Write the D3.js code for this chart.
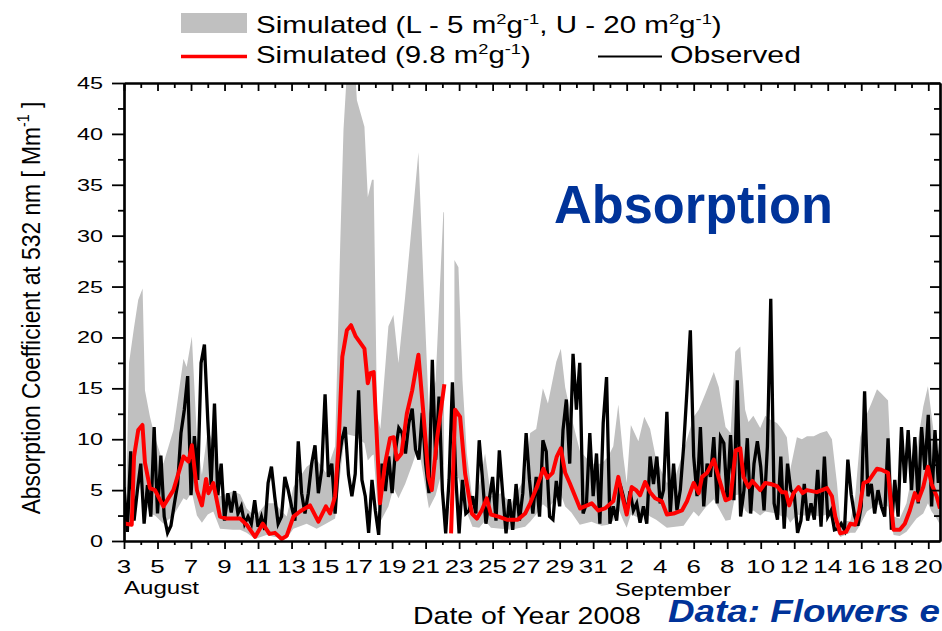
<!DOCTYPE html>
<html>
<head>
<meta charset="utf-8">
<script src="https://cdn.jsdelivr.net/npm/d3@7"></script>
<style>
body { margin: 0; background: #fff; }
svg { display: block; }
</style>
</head>
<body>
<script>
// days are counted from 3 August 2008 (day 0)
var xTickLabels = ["3","5","7","9","11","13","15","17","19","21","23","25","27","29","31",
                   "2","4","6","8","10","12","14","16","18","20"];
var yTickLabels = ["0","5","10","15","20","25","30","35","40","45"];

// observed absorption, one value every obsStep days
var obsStep = 0.2;
var obsVals = [
    5.3,0.9,8.8,2.0,5.0,7.6,1.7,5.5,2.4,11.2,
    2.7,8.4,2.4,0.8,1.5,3.6,5.6,10.6,12.9,16.2,
    4.5,10.3,6.0,17.5,19.3,11.9,5.5,13.5,4.5,7.6,
    2.0,4.7,2.8,4.9,2.7,3.4,1.7,2.4,1.7,4.0,
    1.4,2.4,1.1,5.7,7.3,4.3,1.7,2.4,6.3,5.0,
    3.4,2.0,9.8,4.7,2.7,4.7,7.6,9.4,4.7,7.0,
    14.4,6.3,7.6,2.7,7.6,9.9,11.2,6.5,4.4,6.6,
    14.8,6.0,4.4,0.8,6.0,3.0,0.6,7.6,4.9,8.3,
    4.7,8.9,11.1,10.6,8.6,11.6,13.0,9.0,8.0,12.6,
    7.6,4.7,17.8,8.0,14.2,5.0,0.75,6.0,15.6,6.3,
    0.75,6.0,2.7,3.0,4.4,2.7,9.9,6.0,1.7,4.1,
    6.3,2.0,8.9,4.7,0.75,4.1,1.1,5.6,2.0,4.7,
    10.6,6.0,2.7,6.3,2.4,9.9,8.8,2.4,2.1,5.9,
    3.4,10.9,13.9,7.6,18.4,12.9,17.5,2.7,3.7,10.6,
    4.4,8.6,1.7,11.6,16.1,1.7,3.4,2.0,5.6,4.4,
    2.7,4.9,3.0,3.7,1.8,3.4,1.7,8.3,5.6,8.3,
    3.7,5.0,12.7,2.7,7.6,3.0,5.0,9.3,14.8,20.7,
    8.3,4.4,11.2,3.4,7.6,6.3,10.2,3.7,10.2,9.6,
    4.0,10.4,4.0,15.8,2.4,5.0,10.1,2.7,7.6,9.8,
    7.3,3.0,9.3,23.8,3.7,2.1,8.3,1.2,7.6,5.0,
    4.6,0.8,2.0,5.6,2.0,3.7,2.1,7.0,1.4,8.3,
    2.4,3.0,1.1,1.2,1.7,1.1,8.0,4.6,2.5,1.5,
    3.4,14.7,4.4,5.6,2.7,5.0,3.4,2.4,10.1,1.1,
    6.0,2.4,11.2,5.7,10.9,5.0,10.2,3.7,11.2,7.0,
    12.4,3.4,10.9,5.7,11.7,4.4
];

// simulated with 9.8 m2/g (red)
var redDays = [
    0,0.12,0.46,0.6,0.85,1.1,1.25,1.55,1.85,2.35,
    2.95,3.55,3.85,4.05,4.35,4.65,4.9,5.04,5.33,5.73,
    6.13,6.93,7.32,7.82,8.28,8.68,9.01,9.41,9.71,10.11,
    10.5,11.1,11.6,12.05,12.3,12.6,12.8,13.03,13.3,13.55,
    13.83,14.35,14.55,14.7,14.9,15.28,15.58,15.88,16.1,16.28,
    16.56,16.88,17.2,17.57,17.87,18.17,18.37,18.67,19.12,19.3,
    19.52,19.76,20.06,20.36,20.76,21.06,21.35,21.65,21.9,22.35,
    22.85,23.5,23.94,24.24,24.64,25.03,25.27,25.58,25.83,26.07,
    26.33,26.6,27.22,27.5,27.92,28.3,28.7,29.2,29.5,29.7,
    30.0,30.3,30.56,30.8,31.1,31.4,31.7,32.1,32.4,32.8,
    33.3,33.6,34.0,34.3,34.5,34.8,35.2,35.5,35.9,36.2,
    36.5,36.78,36.97,37.27,37.5,37.97,38.27,38.6,38.97,39.26,
    39.5,39.7,39.96,40.26,40.5,40.76,41.35,41.95,42.25,42.45,
    42.75,43.1,43.35,43.64,43.88,44.14,44.44,44.94,45.2,45.6,
    45.93,46.3,46.6,46.9,47.2,47.4,47.7,47.98,48.2,48.5,
    48.7
];
var redVals = [
    1.8,1.7,1.6,8.3,10.9,11.4,7.7,5.2,5.0,3.4,
    5.0,8.3,7.8,9.4,5.0,3.5,6.1,4.7,5.7,2.4,
    2.2,2.2,1.6,0.4,1.7,0.7,0.8,0.2,0.5,2.4,
    2.9,3.5,1.9,3.4,2.7,4.4,9.3,18.1,20.7,21.2,
    20.1,18.9,15.5,16.5,16.6,3.7,7.6,10.1,10.2,8.0,
    8.6,12.5,14.8,18.3,12.5,6.3,5.0,9.9,15.4,null,
    0.75,12.9,12.2,6.6,2.7,2.2,3.0,4.2,2.6,2.4,
    2.1,2.1,2.7,3.7,5.3,7.1,6.2,6.7,8.3,9.1,
    6.7,5.7,3.2,3.4,3.7,3.0,3.2,3.9,6.3,4.7,
    2.6,5.3,5.0,4.5,5.8,4.8,4.2,3.9,2.6,2.7,
    3.0,3.9,5.7,4.7,6.3,6.7,8.0,6.2,4.0,4.2,
    8.9,9.1,6.3,5.3,5.9,5.0,5.7,5.6,5.4,4.8,
    4.8,3.5,4.7,5.3,4.7,5.0,4.8,5.2,4.4,2.4,
    0.75,0.9,1.7,1.6,3.0,5.7,5.9,7.1,7.0,6.7,
    1.1,1.1,1.7,3.0,4.7,4.0,5.3,7.3,5.6,4.4,
    3.2
];

// simulated range, L = 5 and U = 20 m2/g (grey band)
var bandDays = [
    0,0.12,0.3,0.6,0.85,1.11,1.25,1.55,1.85,2.35,
    2.95,3.55,3.74,4.05,4.35,4.65,5.0,5.33,5.73,6.5,
    6.93,7.32,7.82,8.5,9.0,9.71,10.11,10.9,11.5,12.05,
    12.6,12.9,13.1,13.3,13.8,13.9,14.35,14.55,14.8,14.9,
    15.1,15.3,15.78,16.08,16.38,16.78,17.2,17.57,17.87,18.2,
    18.6,18.87,19.06,19.1,19.4,19.72,19.96,20.2,20.46,20.8,
    21.2,21.55,21.9,22.5,23.1,23.94,24.24,24.6,25.0,25.3,
    25.8,26.07,26.33,26.7,27.2,27.9,28.5,28.9,29.2,29.5,
    29.8,30.0,30.25,30.7,31.05,31.4,31.76,32.4,32.9,33.4,
    34.0,34.3,34.7,35.2,35.5,35.9,36.2,36.48,36.78,37.07,
    37.27,37.56,37.97,38.27,38.6,38.97,39.26,39.56,39.76,40.16,
    40.46,40.76,41.16,41.55,41.95,42.25,42.55,42.75,43.35,43.64,
    43.94,44.34,44.6,44.94,45.2,45.6,45.93,46.3,46.7,47.3,
    47.7,47.98,48.2,48.5,48.7
];
var bandHigh = [
    2.0,3.0,17.5,21.0,23.7,24.8,14.8,12.2,10.2,7.6,
    10.9,17.9,17.1,20.1,10.2,6.5,10.9,9.7,4.4,4.9,
    4.6,3.2,2.4,3.7,3.7,2.4,5.3,7.3,8.0,6.7,
    9.3,28.9,40.4,46,46,43.3,40.7,33.8,35.5,35.5,
    12.5,11.0,21.1,22.2,17.5,24.0,31.5,38.2,25.6,12.5,
    15.8,25.6,32.3,32.3,null,27.6,26.9,15.8,8.6,4.0,
    5.5,8.6,4.4,4.7,3.7,6.3,10.6,11.0,15.0,13.5,
    17.6,18.9,15.1,12.2,8.9,7.6,7.6,8.3,9.3,13.4,
    8.3,5.7,11.4,9.8,12.2,11.0,8.0,5.7,6.3,8.9,
    12.2,12.9,14.5,16.6,15.1,11.2,10.6,18.6,19.1,12.9,
    11.7,12.3,11.1,12.3,11.9,11.6,11.0,10.2,7.0,10.2,
    10.0,10.3,10.3,10.6,10.8,10.0,5.7,1.9,2.0,4.4,
    10.2,12.5,13.5,14.9,14.5,13.8,2.4,2.2,3.7,8.9,
    13.2,15.2,12.3,8.3,7.0
];
var bandLow = [
    0.9,0.9,2.5,4.2,5.5,5.8,3.9,2.7,2.5,1.7,
    2.5,4.2,4.0,4.8,2.5,1.8,2.6,2.9,1.2,1.1,
    1.1,0.8,0.2,0.6,0.4,0.25,1.2,1.7,1.2,1.7,
    2.2,6.5,9.3,10.5,10.3,10.2,9.6,7.9,8.4,8.5,
    4.0,1.9,3.4,5.2,4.2,5.6,7.5,9.3,6.4,3.2,
    4.5,6.2,7.6,0,null,6.0,6.2,4.5,2.8,1.4,
    1.3,2.0,1.3,1.2,1.1,1.4,1.9,2.6,3.6,3.2,
    4.2,4.6,3.4,2.8,1.6,1.9,1.5,1.6,2.0,3.2,
    2.0,1.3,2.6,2.3,2.9,2.4,2.1,1.3,1.4,1.5,
    2.9,2.4,3.3,4.1,3.2,2.0,2.1,4.5,4.6,3.0,
    2.7,3.0,2.5,2.9,2.8,2.7,2.4,2.4,1.8,2.6,
    2.5,2.5,2.5,2.4,2.6,2.2,0.9,0.4,0.8,0.8,
    1.6,2.9,3.2,3.6,3.5,3.4,0.6,0.5,0.9,2.2,
    2.7,3.7,2.9,2.2,1.6
];

var w = 942;
var h = 631;
var font = "'Liberation Sans', Arial, sans-serif";
var blue = "#003399";

var svg = d3.select("body").append("svg").attr("width", w).attr("height", h);

var x = d3.scaleLinear().domain([0, 48.7]).range([124, 940]);
var y = d3.scaleLinear().domain([0, 45]).range([541, 83]);

svg.append("clipPath").attr("id", "plot")
    .append("rect")
    .attr("x", x.range()[0]).attr("y", y.range()[1])
    .attr("width", x.range()[1] - x.range()[0])
    .attr("height", y.range()[0] - y.range()[1]);

var plot = svg.append("g").attr("clip-path", "url(#plot)");

// grey band
var band = bandDays.map(function (d, i) { return {d: d, lo: bandLow[i], hi: bandHigh[i]}; });
plot.append("path")
    .datum(band)
    .attr("fill", "#c0c0c0")
    .attr("d", d3.area()
        .defined(function (p) { return p.hi != null; })
        .x(function (p) { return x(p.d); })
        .y0(function (p) { return y(p.lo); })
        .y1(function (p) { return y(p.hi); }));

// observed
var obs = obsVals.map(function (v, i) { return {d: i * obsStep, v: v}; });
plot.append("path")
    .datum(obs)
    .attr("fill", "none")
    .attr("stroke", "#000")
    .attr("stroke-width", 3.3)
    .attr("d", d3.line()
        .x(function (p) { return x(p.d); })
        .y(function (p) { return y(p.v); }));

// simulated 9.8
var red = redDays.map(function (d, i) { return {d: d, v: redVals[i]}; });
plot.append("path")
    .datum(red)
    .attr("fill", "none")
    .attr("stroke", "#ff0000")
    .attr("stroke-width", 4)
    .attr("stroke-linejoin", "round")
    .attr("d", d3.line()
        .defined(function (p) { return p.v != null; })
        .x(function (p) { return x(p.d); })
        .y(function (p) { return y(p.v); }));

// axes (ticks only, labels drawn below)
var days = d3.range(0, 49);
var majorDays = days.filter(function (d) { return d % 2 === 0; });
var minorDays = days.filter(function (d) { return d % 2 === 1; });
var yMajor = d3.range(0, 46, 5);
var yMinor = d3.range(2.5, 45, 5);

function axisGroup(axis, tx, ty) {
    var g = svg.append("g")
        .attr("transform", "translate(" + tx + "," + ty + ")")
        .call(axis.tickSizeOuter(0).tickFormat(""));
    g.select(".domain").attr("stroke-width", 2.2);
    g.selectAll(".tick line").attr("stroke-width", 1.8);
    return g;
}

axisGroup(d3.axisBottom(x).tickValues(minorDays).tickSize(4), 0, 541);
axisGroup(d3.axisBottom(x).tickValues(majorDays).tickSize(8), 0, 541);
axisGroup(d3.axisTop(x).tickValues(minorDays).tickSize(-5), 0, 83);
axisGroup(d3.axisTop(x).tickValues(majorDays).tickSize(-8), 0, 83);
axisGroup(d3.axisLeft(y).tickValues(yMinor).tickSize(6), 124, 0);
axisGroup(d3.axisLeft(y).tickValues(yMajor).tickSize(12), 124, 0);
axisGroup(d3.axisRight(y).tickValues(yMinor).tickSize(-6), 940, 0);
axisGroup(d3.axisRight(y).tickValues(yMajor).tickSize(-10), 940, 0);

// text helper: parts may carry superscripts; the reference text is stretched sideways
function addText(parts, o) {
    var t = svg.append("text")
        .attr("font-family", font)
        .attr("font-size", o.size)
        .attr("font-weight", o.weight || "normal")
        .attr("font-style", o.style || "normal")
        .attr("fill", o.fill || "#000")
        .attr("text-anchor", o.anchor || "start");
    var shift = 0;
    (typeof parts === "string" ? [{t: parts}] : parts).forEach(function (p) {
        var ts = t.append("tspan").text(p.t);
        if (p.sup) {
            ts.attr("font-size", o.size * 0.62).attr("dy", -o.size * 0.42 - shift);
            shift = -o.size * 0.42;
        } else {
            ts.attr("dy", -shift);
            shift = 0;
        }
    });
    var sx = o.width ? o.width / t.node().getComputedTextLength() : (o.sx || 1);
    if (o.rotate) {
        t.attr("transform", "translate(" + o.x + "," + o.y + ") rotate(-90) scale(" + sx + "," + (o.sy || 1) + ")");
    } else {
        t.attr("transform", "translate(" + o.x + "," + o.y + ") scale(" + sx + ",1)");
    }
    return t;
}

majorDays.forEach(function (d, i) {
    addText(xTickLabels[i], {x: x(d), y: 573, size: 18.5, sx: 1.4, anchor: "middle"});
});
yMajor.forEach(function (v, i) {
    addText(yTickLabels[i], {x: 103, y: y(v) + 6, size: 16.5, sx: 1.42, anchor: "end"});
});

addText("August", {x: 124, y: 594, size: 18.5, width: 75});
addText("September", {x: 615, y: 595.5, size: 18, width: 116});
addText("Date of Year 2008", {x: 413, y: 624, size: 24, width: 228});

addText([{t: "Absorption Coefficient at 532 nm [ Mm"}, {t: "-1", sup: true}, {t: " ]"}],
    {x: 39.5, y: 308, size: 23, width: 413, sy: 1.13, anchor: "middle", rotate: true});

addText("Absorption", {x: 554, y: 223, size: 53, weight: "bold", fill: blue, width: 279});
addText("Data: Flowers e", {x: 668, y: 622, size: 31, weight: "bold", style: "italic", fill: blue, width: 272});

// legend
svg.append("rect").attr("x", 181).attr("y", 13).attr("width", 66).attr("height", 20).attr("fill", "#c0c0c0");
svg.append("line").attr("x1", 181).attr("x2", 247).attr("y1", 56.5).attr("y2", 56.5)
    .attr("stroke", "#ff0000").attr("stroke-width", 3.5);
svg.append("line").attr("x1", 598).attr("x2", 662).attr("y1", 56.5).attr("y2", 56.5)
    .attr("stroke", "#000").attr("stroke-width", 2);

addText([{t: "Simulated (L - 5 m"}, {t: "2", sup: true}, {t: "g"}, {t: "-1", sup: true},
         {t: ", U - 20 m"}, {t: "2", sup: true}, {t: "g"}, {t: "-1", sup: true}, {t: ")"}],
    {x: 256, y: 33.3, size: 23, width: 466});
addText([{t: "Simulated (9.8 m"}, {t: "2", sup: true}, {t: "g"}, {t: "-1", sup: true}, {t: ")"}],
    {x: 256, y: 63.3, size: 23, width: 275});
addText("Observed", {x: 670, y: 63.3, size: 23, width: 131});
</script>
</body>
</html>
